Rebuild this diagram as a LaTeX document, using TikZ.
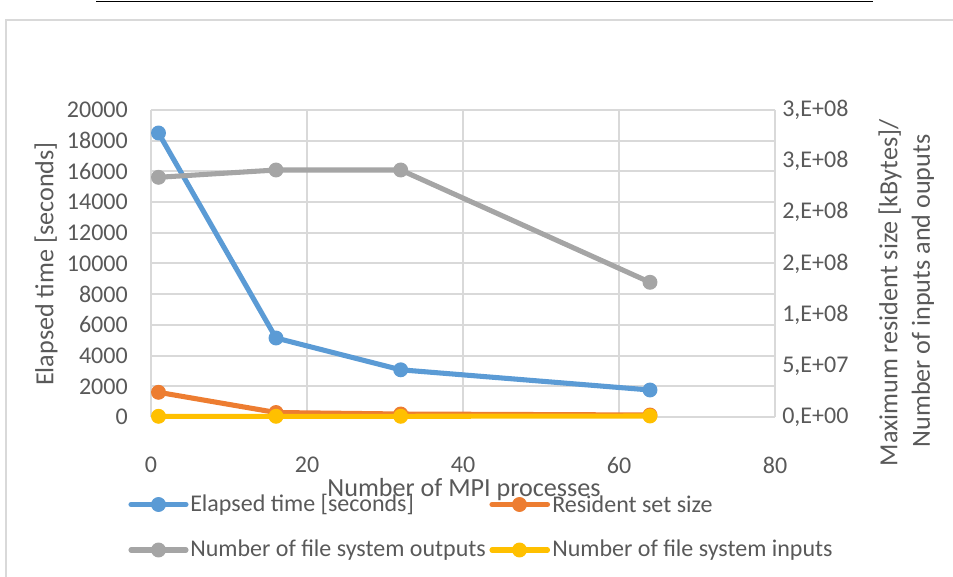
\documentclass[tikz,border=0pt]{standalone}
\usepackage{fontspec}
\setmainfont{Carlito}
\definecolor{txt}{HTML}{595959}
\definecolor{grid}{HTML}{D9D9D9}
\definecolor{sblue}{HTML}{5B9BD5}
\definecolor{sorange}{HTML}{ED7D31}
\definecolor{sgray}{HTML}{A5A5A5}
\definecolor{syellow}{HTML}{FFC000}
\tikzset{
  ticklbl/.style={font=\fontsize{18}{21}\selectfont, text=txt, inner sep=0pt},
  axtitle/.style={font=\fontsize{19.6}{23}\selectfont, text=txt, inner sep=0pt},
  legtxt/.style={font=\fontsize{18}{21}\selectfont, text=txt, inner sep=0pt, anchor=west},
  gridline/.style={draw=grid, line width=1.5},
  series/.style={line width=3.8pt, line join=round, line cap=round},
  dot/.style={circle, inner sep=0pt, minimum size=11.2pt},
}
\begin{document}
\begin{tikzpicture}[x=0.75pt,y=-0.75pt]
\useasboundingbox (0,0) rectangle (953,577);
% top rule
\draw[black, line width=1.2pt] (96,1.5) -- (873,1.5);
% outer chart frame
\draw[grid, line width=1.2pt] (6,600) -- (6,20) -- (980,20);
% grid
\foreach \i in {0,...,10} { \draw[gridline] (151,{417-30.7*\i}) -- (775,{417-30.7*\i}); }
\foreach \x in {151,307,463,619,775} { \draw[gridline] (\x,110) -- (\x,417); }
% left tick labels
\foreach \v [count=\i from 0] in {0,2000,4000,6000,8000,10000,12000,14000,16000,18000,20000} {
  \node[ticklbl, anchor=east] (yl\i) at (128,{417-30.7*\i}) {\v};
}
% right tick labels
\node[ticklbl, anchor=west] (yr0) at (782,417) {0,E+00};
\node[ticklbl, anchor=west] (yr1) at (782,365.8) {5,E+07};
\node[ticklbl, anchor=west] (yr2) at (782,314.7) {1,E+08};
\node[ticklbl, anchor=west] (yr3) at (782,263.5) {2,E+08};
\node[ticklbl, anchor=west] (yr4) at (782,212.3) {2,E+08};
\node[ticklbl, anchor=west] (yr5) at (782,161.2) {3,E+08};
\node[ticklbl, anchor=west] (yr6) at (782,110) {3,E+08};
% bottom tick labels
\foreach \v [count=\i from 0] in {0,20,40,60,80} {
  \node[ticklbl] (xl\i) at ({151+156*\i},465) {\v};
}
% axis titles
\node[axtitle, rotate=90] (ytitle) at (46,264) {Elapsed time [seconds]};
\node[axtitle, rotate=90] (y2title1) at (890,293) {Maximum resident size [kBytes]/};
\node[axtitle, rotate=90] (y2title2) at (923,291) {Number of inputs and ouputs};
\node[axtitle] (xtitle) at (464,490) {Number of MPI processes};
% series
\coordinate (b1) at (158.5,133); \coordinate (b2) at (276,338); \coordinate (b3) at (400.7,369.8); \coordinate (b4) at (650,390);
\coordinate (o1) at (158.5,392.3); \coordinate (o2) at (276,412.5); \coordinate (o3) at (400.7,414); \coordinate (o4) at (650,415);
\coordinate (g1) at (158.5,177.3); \coordinate (g2) at (276,170); \coordinate (g3) at (400.7,170); \coordinate (g4) at (650,282.3);
\coordinate (y1) at (158.5,416.3); \coordinate (y2) at (276,416.3); \coordinate (y3) at (400.7,416.3); \coordinate (y4) at (650,416);
\draw[series, sblue] (b1) -- (b2) -- (b3) -- (b4);
\foreach \p in {b1,b2,b3,b4} { \node[dot, fill=sblue] at (\p) {}; }
\draw[series, sorange] (o1) -- (o2) -- (o3) -- (o4);
\foreach \p in {o1,o2,o3,o4} { \node[dot, fill=sorange] at (\p) {}; }
\draw[series, sgray] (g1) -- (g2) -- (g3) -- (g4);
\foreach \p in {g1,g2,g3,g4} { \node[dot, fill=sgray] at (\p) {}; }
\draw[series, syellow] (y1) -- (y2) -- (y3) -- (y4);
\foreach \p in {y1,y2,y3,y4} { \node[dot, fill=syellow] at (\p) {}; }
% legend
\coordinate (la1) at (131,504.5); \coordinate (lb1) at (186,504.5);
\draw[series, sblue] (la1) -- (lb1); \node[dot, fill=sblue] (lm1) at (158.5,504.5) {};
\node[legtxt] (lt1) at (190,504.5) {Elapsed time [seconds]};
\coordinate (la2) at (492,504.5); \coordinate (lb2) at (547.5,504.5);
\draw[series, sorange] (la2) -- (lb2); \node[dot, fill=sorange] (lm2) at (519.5,504.5) {};
\node[legtxt] (lt2) at (552,504.5) {Resident set size};
\coordinate (la3) at (131,550); \coordinate (lb3) at (186,550);
\draw[series, sgray] (la3) -- (lb3); \node[dot, fill=sgray] (lm3) at (158.5,550) {};
\node[legtxt] (lt3) at (190,550) {Number of file system outputs};
\coordinate (la4) at (492,550); \coordinate (lb4) at (547.5,550);
\draw[series, syellow] (la4) -- (lb4); \node[dot, fill=syellow] (lm4) at (519.5,550) {};
\node[legtxt] (lt4) at (552,550) {Number of file system inputs};
\end{tikzpicture}
\end{document}
